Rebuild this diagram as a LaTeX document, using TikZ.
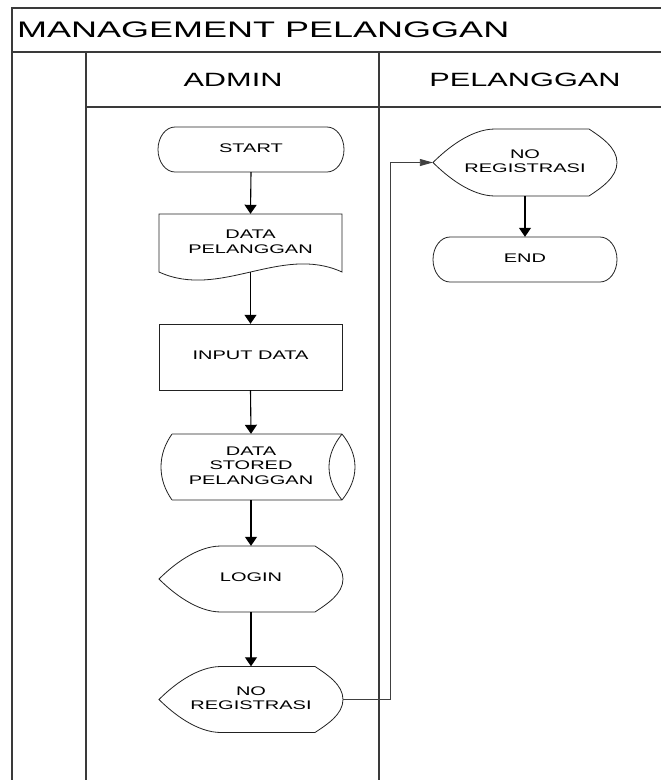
\documentclass[tikz,border=0pt]{standalone}
\usepackage{graphicx}
\usepackage{fontspec}
\setmainfont{Liberation Sans}
\usetikzlibrary{arrows.meta}
\definecolor{framec}{HTML}{3A3A3A}
\definecolor{shapec}{HTML}{222222}
\newcommand\wide[1]{\scalebox{1.6}[1]{\begin{tabular}{@{}c@{}}#1\end{tabular}}}
% terminator: left, top, right, bottom
\newcommand\termshape[4]{%
  \draw[shp] ({#1+17},#2) -- ({#3-17},#2)
    .. controls ({#3-7.6},#2) and (#3,{(#2+#4)/2-12.4}) .. (#3,{(#2+#4)/2})
    .. controls (#3,{(#2+#4)/2+12.4}) and ({#3-7.6},#4) .. ({#3-17},#4)
    -- ({#1+17},#4)
    .. controls ({#1+7.6},#4) and (#1,{(#2+#4)/2+12.4}) .. (#1,{(#2+#4)/2})
    .. controls (#1,{(#2+#4)/2-12.4}) and ({#1+7.6},#2) .. cycle;}
% display: left, top, right, bottom
\newcommand\dispshape[4]{%
  \draw[shp] ({#1+62},#2) -- ({#3-28},#2)
    .. controls ({#3-16},{#2+8}) and (#3,{(#2+#4)/2-15}) .. (#3,{(#2+#4)/2})
    .. controls (#3,{(#2+#4)/2+15}) and ({#3-16},{#4-8}) .. ({#3-28},#4)
    -- ({#1+62},#4)
    .. controls ({#1+38},#4) and ({#1+14},{(#2+#4)/2+14}) .. (#1,{(#2+#4)/2})
    .. controls ({#1+14},{(#2+#4)/2-14}) and ({#1+38},#2) .. cycle;}
\tikzset{
  frame/.style={draw=framec, line width=1.6pt},
  shp/.style={draw=shapec, line width=0.8pt},
  box/.style={inner sep=0pt, font=\fontsize{12.5}{14.4}\selectfont},
  arr/.style={draw=black, line width=1.1pt, -{Triangle[length=9pt,width=12pt]}},
  harr/.style={draw=black!75, line width=0.9pt, -{Triangle[length=13pt,width=7pt]}},
}
\begin{document}
\begin{tikzpicture}[x=1pt,y=-1pt]
\useasboundingbox[fill=white] (0,0) rectangle (661,780);
% frame
\draw[frame] (661,8) -- (12,8) -- (12,780);
\draw[frame] (12,52) -- (661,52);
\draw[frame] (86,52) -- (86,780);
\draw[frame] (379,52) -- (379,780);
\draw[frame] (86,107) -- (661,107);
% headers
\node[inner sep=0pt, anchor=west, font=\fontsize{22.5}{27}\selectfont] (title) at (17,30) {\scalebox{1.6}[1]{MANAGEMENT PELANGGAN}};
\node[inner sep=0pt, font=\fontsize{19.2}{23}\selectfont] (hadmin) at (233,80) {\scalebox{1.6}[1]{ADMIN}};
\node[inner sep=0pt, font=\fontsize{19.2}{23}\selectfont] (hpel) at (525,80) {\scalebox{1.6}[1]{PELANGGAN}};
% shapes
\termshape{158}{127}{344}{172}
\node[box, minimum width=186pt, minimum height=45pt] (start) at (251,149.5) {\wide{START}};
\draw[shp] (159,214) -- (342,214) -- (342,272) .. controls (281,244) and (220,300) .. (159,272) -- cycle;
\node[box, minimum width=183pt, minimum height=58pt] (data) at (250.5,243) {\raisebox{3.5pt}{\wide{DATA\\PELANGGAN}}};
\draw[shp] (159,324) rectangle (342,390);
\node[box, minimum width=183pt, minimum height=66pt] (input) at (250.5,357) {\wide{INPUT DATA}};
\draw[shp] (172,434) -- (342,434) (172,500) -- (342,500)
  (172,434) .. controls (165,444) and (161,455) .. (161,467) .. controls (161,479) and (165,490) .. (172,500)
  (342,434) .. controls (350,444) and (355,455) .. (355,467) .. controls (355,479) and (350,490) .. (342,500)
  (342,434) .. controls (334,444) and (329,455) .. (329,467) .. controls (329,479) and (334,490) .. (342,500);
\node[box, minimum width=150pt, minimum height=66pt] (stored) at (251,467) {\wide{DATA\\STORED\\PELANGGAN}};
\dispshape{159}{546}{343}{612}
\node[box, minimum width=184pt, minimum height=66pt] (login) at (251,579) {\wide{LOGIN}};
\dispshape{159}{666.5}{343}{732.5}
\node[box, minimum width=184pt, minimum height=66pt] (noreg1) at (251,699.5) {\wide{NO\\REGISTRASI}};
\dispshape{433}{129}{617}{196}
\node[box, minimum width=184pt, minimum height=67pt] (noreg2) at (525,162.5) {\wide{NO\\REGISTRASI}};
\termshape{433}{237}{617}{282}
\node[box, minimum width=184pt, minimum height=45pt] (end) at (525,259.5) {\wide{END}};
% connectors
\draw[arr] (start.south) -- (data.north);
\draw[arr] (data.south) -- (input.north);
\draw[arr] (input.south) -- (stored.north);
\draw[arr] (stored.south) -- (login.north);
\draw[arr] (login.south) -- (noreg1.north);
\draw[harr] (noreg1.east) -- ++(47,0) |- (noreg2.west);
\draw[arr] (noreg2.south) -- (end.north);
\end{tikzpicture}
\end{document}
